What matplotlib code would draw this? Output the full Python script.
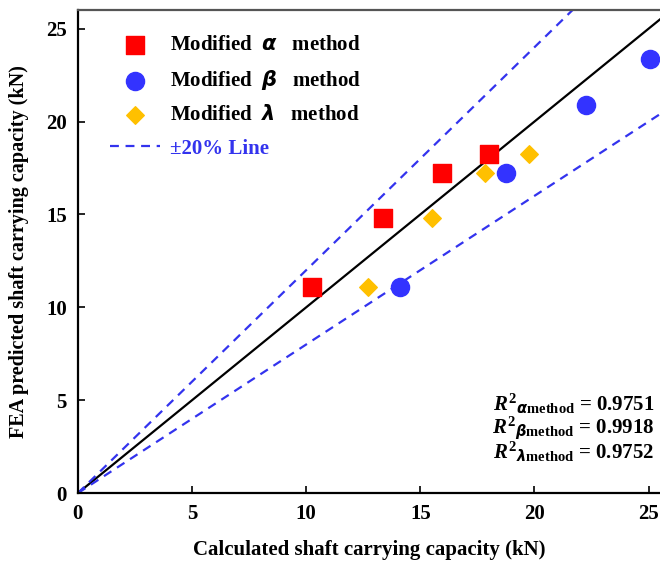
import matplotlib
matplotlib.use('Agg')
import matplotlib.pyplot as plt
import numpy as np

# data
alpha_x = [10.25, 13.35, 15.95, 18.0]
alpha_y = [11.1, 14.8, 17.25, 18.25]
beta_x = [14.1, 18.75, 22.25, 25.05]
beta_y = [11.1, 17.25, 20.9, 23.35]
lam_x = [12.7, 15.5, 17.85, 19.75]
lam_y = [11.1, 14.8, 17.25, 18.25]
r2_names = [r'\alpha', r'\beta', r'\lambda']
r2_vals = ['0.9751', '0.9918', '0.9752']

plt.rcParams['font.family'] = 'Liberation Serif'
plt.rcParams['font.weight'] = 'bold'
plt.rcParams['mathtext.fontset'] = 'custom'
plt.rcParams['mathtext.rm'] = 'Liberation Serif:bold'
plt.rcParams['mathtext.bf'] = 'Liberation Serif:bold'
plt.rcParams['mathtext.it'] = 'Liberation Serif:italic:bold'
plt.rcParams['mathtext.sf'] = 'DejaVu Sans:italic:bold'
fs = 15

fig = plt.figure(figsize=(6.6, 5.61), dpi=100)
ax = fig.add_axes([0.118, 0.121, 0.882, 0.861])

line_x = np.array([0, 30])
ax.plot(line_x, line_x, color='black', linewidth=1.6, zorder=1)
ax.plot(line_x, 1.2 * line_x, color='#3333EE', linestyle=(0, (4, 3)), linewidth=1.6, zorder=1)
ax.plot(line_x, 0.8 * line_x, color='#3333EE', linestyle=(0, (4, 3)), linewidth=1.6, zorder=1,
        label='\u00b120% Line')

ax.scatter(alpha_x, alpha_y, marker='s', s=150, color='#FF0000', zorder=3,
           label=r'Modified  $\mathsf{\alpha}$   method')
ax.scatter(beta_x, beta_y, marker='o', s=170, color='#3333FF', zorder=3,
           label=r'Modified  $\mathsf{\beta}$   method')
ax.scatter(lam_x, lam_y, marker='D', s=80, color='#FFC000', zorder=3,
           label=r'Modified  $\mathsf{\lambda}$   method')

handles, labels = ax.get_legend_handles_labels()
order = [1, 2, 3, 0]
leg = ax.legend([handles[i] for i in order], [labels[i] for i in order],
                loc='upper left', bbox_to_anchor=(0.055, 0.948), frameon=False,
                fontsize=fs, labelspacing=0.63, handlelength=2.4, handletextpad=0.5,
                borderpad=0, borderaxespad=0,
                labelcolor=['black', 'black', 'black', '#3333EE'])

for i in range(3):
    ax.text(0.99, 0.184 - i * 0.0497,
            r'$R^{2}{}_{\mathsf{' + r2_names[i] + r'}\mathrm{method}}$ = ' + r2_vals[i],
            transform=ax.transAxes, ha='right', va='center', fontsize=15)

ax.set_xlim(0, 25.5)
ax.set_ylim(0, 26)
ax.set_xticks([0, 5, 10, 15, 20, 25])
ax.set_yticks([0, 5, 10, 15, 20, 25])
ax.tick_params(direction='in', labelsize=fs, width=1.2, length=5, pad=8)
ax.spines['right'].set_visible(False)
for s in ['left', 'bottom', 'top']:
    ax.spines[s].set_linewidth(1.6)
ax.spines['top'].set_color('#555555')

ax.set_xlabel('Calculated shaft carrying capacity (kN)', fontsize=fs, fontweight='bold', labelpad=11)
ax.set_ylabel('FEA predicted shaft carrying capacity (kN)', fontsize=14.5, fontweight='bold', labelpad=12)

plt.savefig('out.png', dpi=100)
